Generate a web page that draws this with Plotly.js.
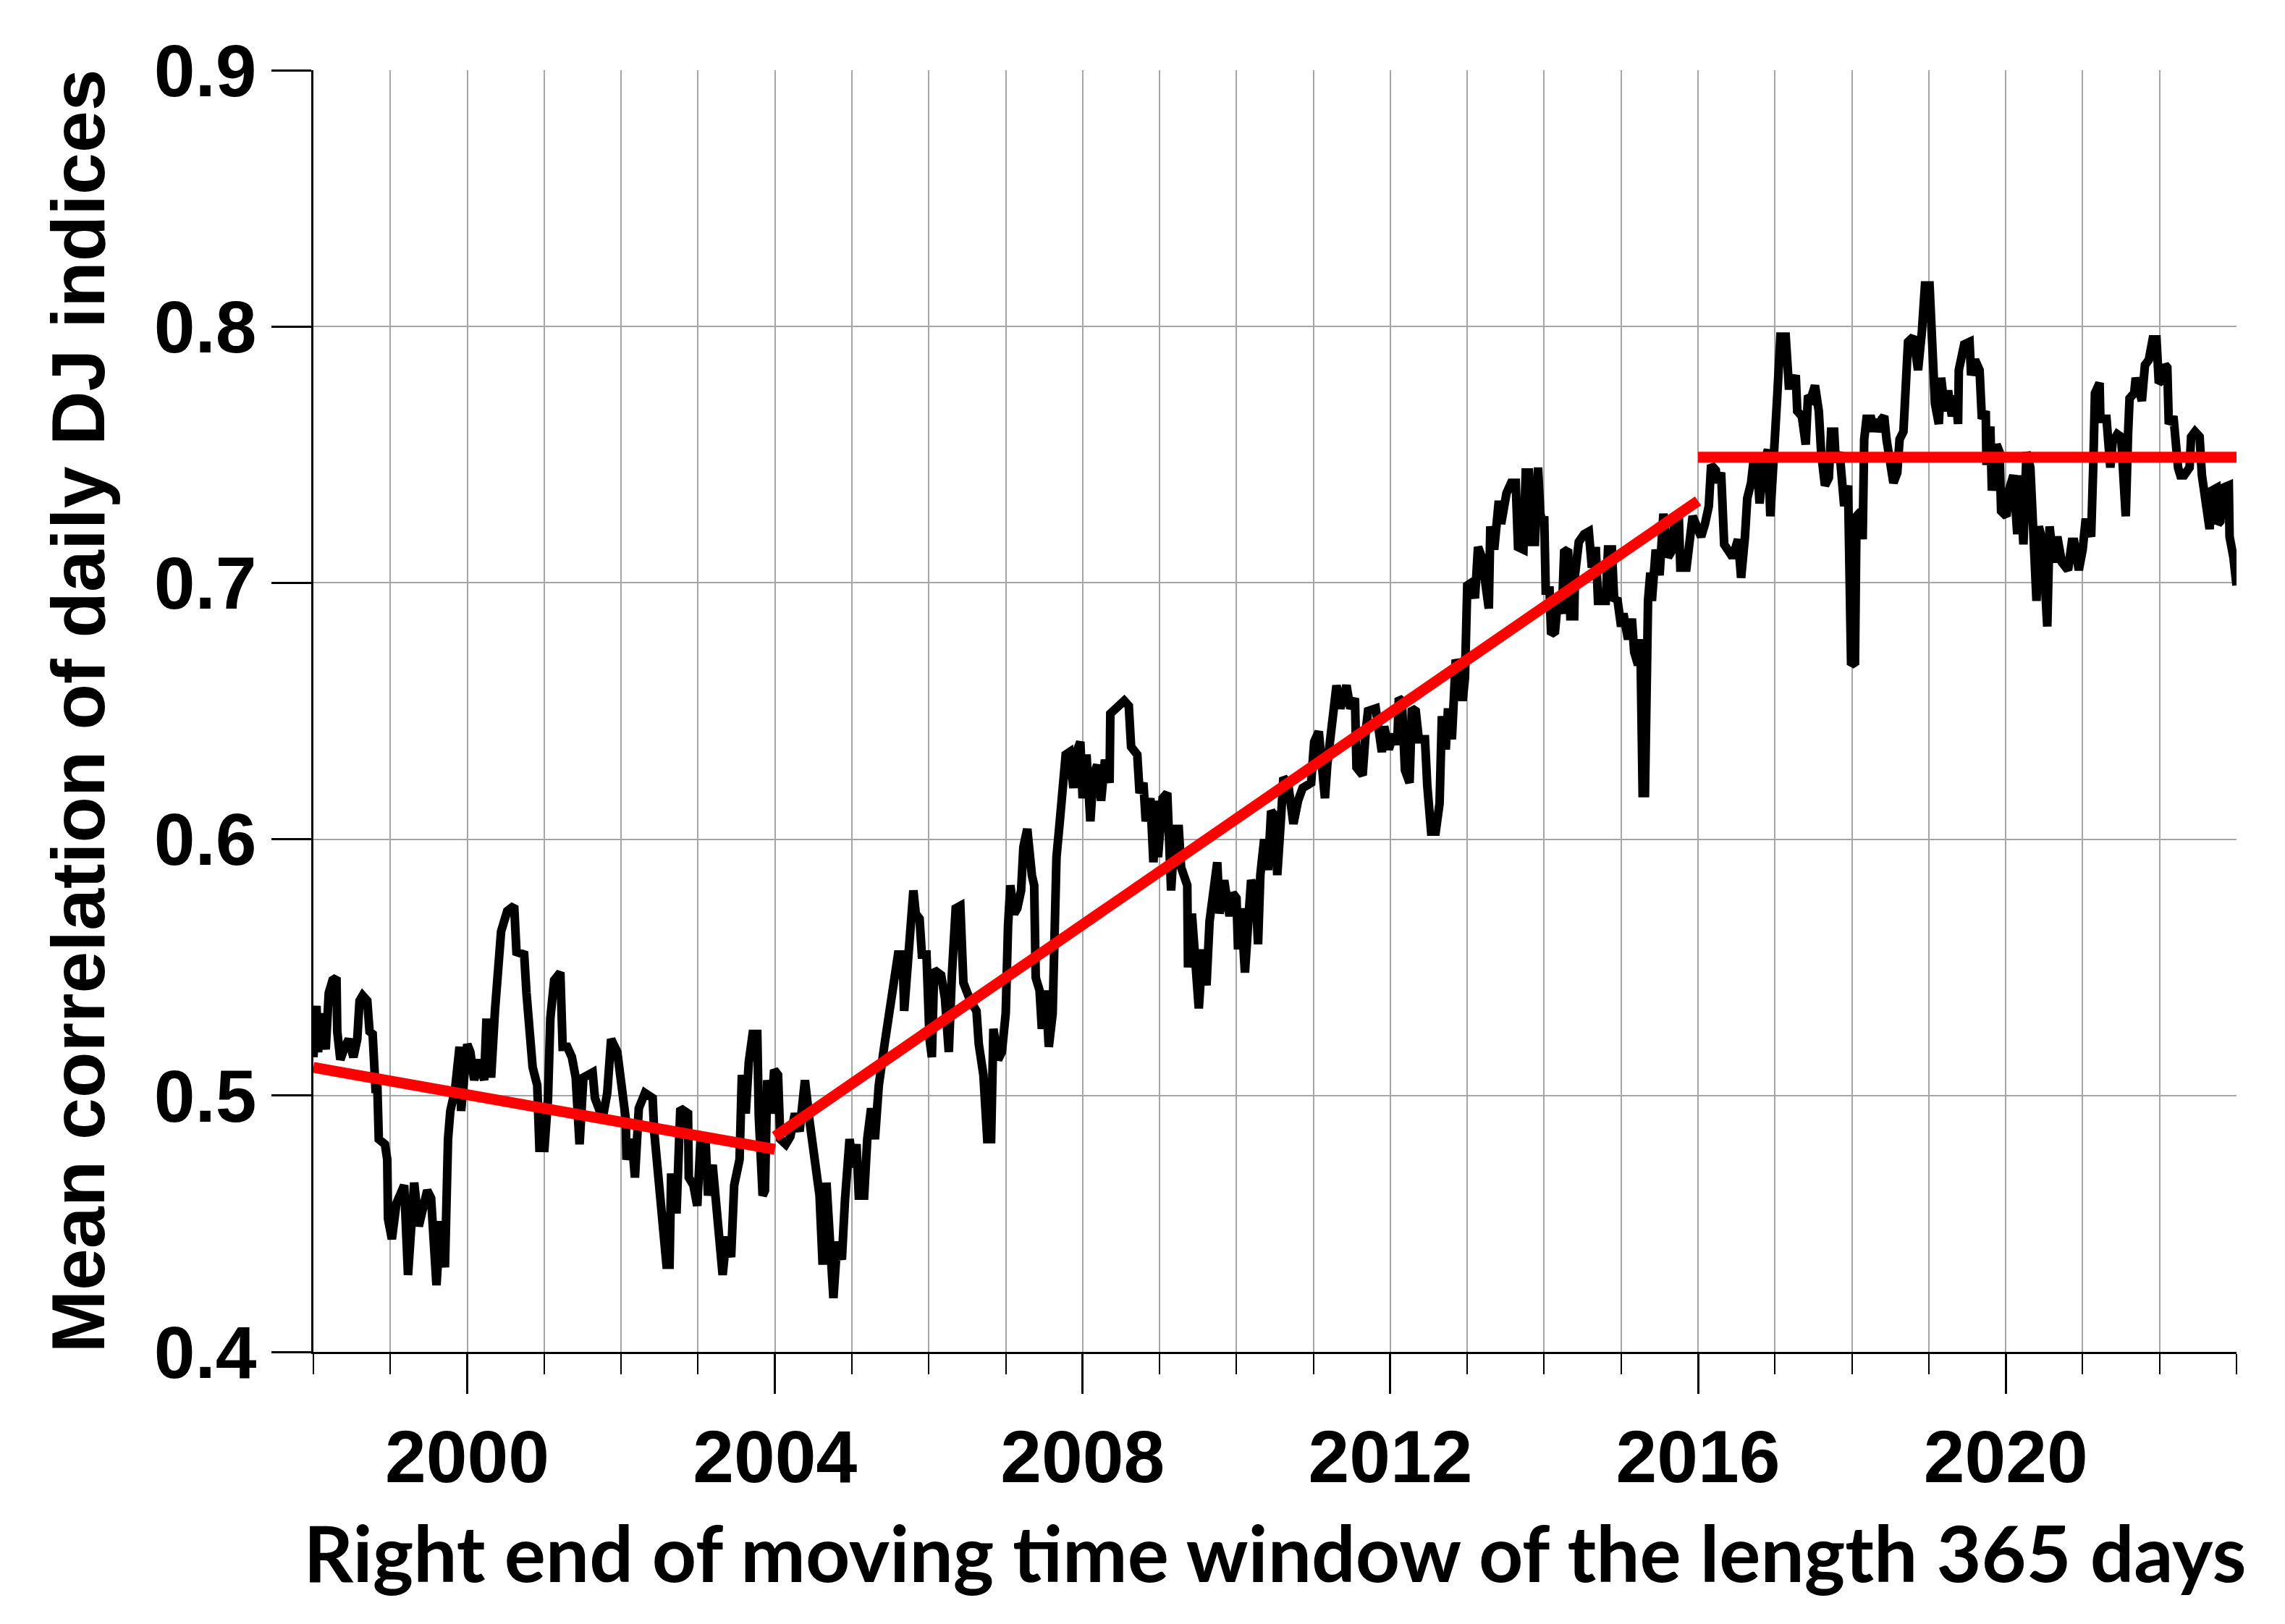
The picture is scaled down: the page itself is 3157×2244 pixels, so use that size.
<!DOCTYPE html>
<html>
<head>
<meta charset="utf-8">
<script src="https://cdn.plot.ly/plotly-3.0.1.min.js"></script>
<style>html,body{margin:0;padding:0;background:#fff;}#chart{width:3157px;height:2244px;}</style>
</head>
<body>
<div id="chart"></div>
<script>
// Mean correlation of daily DJ indices (365-day moving window)
const corrYears = [
1998.00,1998.04,1998.06,1998.11,1998.16,1998.20,1998.25,1998.30,1998.31,1998.35,1998.41,1998.46,1998.52,1998.57,1998.60,1998.64,1998.70,1998.73,1998.77,1998.80,1998.81,1998.83,1998.85,1998.93,1998.96,1998.97,1999.02,1999.08,1999.18,1999.23,1999.31,1999.37,1999.48,1999.53,1999.56,1999.60,1999.65,1999.71,1999.75,1999.78,1999.84,1999.90,1999.92,
2000.00,2000.04,2000.09,2000.15,2000.22,2000.25,2000.31,2000.36,2000.39,2000.44,2000.52,2000.61,2000.64,2000.74,2000.77,2000.80,2000.85,2000.91,2000.94,2000.97,2001.00,2001.05,2001.08,2001.13,2001.21,2001.24,2001.30,2001.36,2001.41,2001.46,2001.51,2001.63,2001.66,2001.76,2001.82,2001.87,2001.95,2002.01,2002.06,2002.07,2002.14,2002.18,
2002.23,2002.31,2002.41,2002.43,2002.53,2002.59,2002.63,2002.65,2002.69,2002.72,2002.77,2002.87,2002.88,2002.94,2002.99,2003.03,2003.10,2003.13,2003.19,2003.27,2003.32,2003.37,2003.43,2003.47,2003.54,2003.57,2003.62,2003.66,2003.71,2003.77,2003.79,2003.84,2003.87,2003.90,2003.95,2003.99,
2004.04,2004.07,2004.14,2004.20,2004.26,2004.32,2004.39,2004.45,2004.51,2004.58,2004.62,2004.67,2004.72,2004.76,2004.81,2004.87,2004.91,2004.97,2005.02,2005.06,2005.09,2005.16,2005.20,2005.25,2005.30,2005.35,2005.42,2005.49,2005.55,2005.60,2005.66,2005.68,2005.72,2005.77,2005.80,2005.83,2005.88,2005.91,2005.97,
2006.01,2006.04,2006.07,2006.16,2006.21,2006.26,2006.30,2006.35,2006.41,2006.45,2006.54,2006.62,2006.65,2006.71,2006.76,2006.81,2006.84,2006.90,2006.95,
2007.00,2007.03,2007.06,2007.11,2007.15,2007.20,2007.23,2007.28,2007.31,2007.34,2007.37,2007.39,2007.44,2007.47,2007.52,2007.56,2007.61,2007.63,2007.66,2007.70,2007.74,2007.78,2007.83,2007.88,2007.92,2007.97,
2008.00,2008.05,2008.10,2008.14,2008.19,2008.24,2008.29,2008.35,2008.36,2008.43,2008.49,2008.54,2008.60,2008.63,2008.71,2008.74,2008.79,2008.82,2008.88,2008.92,2008.96,2008.98,
2009.04,2009.10,2009.15,2009.20,2009.25,2009.28,2009.36,2009.37,2009.42,2009.48,2009.51,2009.56,2009.61,2009.65,2009.70,2009.75,2009.78,2009.84,2009.91,2009.95,
2010.00,2010.02,2010.06,2010.11,2010.16,2010.19,2010.25,2010.28,2010.31,2010.36,2010.41,2010.45,2010.50,2010.53,2010.58,2010.61,2010.67,2010.74,2010.80,2010.86,2010.97,
2011.01,2011.07,2011.10,2011.15,2011.18,2011.24,2011.30,2011.35,2011.43,2011.48,2011.54,2011.56,2011.64,2011.68,2011.71,2011.81,2011.86,2011.89,2011.92,2011.98,
2012.04,2012.09,2012.11,2012.15,2012.19,2012.25,2012.28,2012.33,2012.37,2012.45,2012.48,2012.53,2012.59,2012.64,2012.67,2012.72,2012.75,2012.80,2012.85,2012.89,2012.94,2012.97,
2013.00,2013.05,2013.10,2013.14,2013.19,2013.24,2013.28,2013.30,2013.35,2013.41,2013.44,2013.51,2013.57,2013.63,2013.66,2013.73,2013.76,2013.80,2013.84,2013.88,2013.92,2013.95,2013.98,
2014.00,2014.02,2014.07,2014.09,2014.14,2014.18,2014.23,2014.26,2014.31,2014.34,2014.39,2014.40,2014.45,2014.52,2014.58,2014.62,2014.67,2014.70,2014.80,2014.83,2014.88,2014.91,2014.95,2014.98,
2015.00,2015.03,2015.09,2015.14,2015.17,2015.22,2015.25,2015.28,2015.31,2015.35,2015.38,2015.40,2015.45,2015.50,2015.55,2015.61,2015.67,2015.70,2015.75,2015.77,2015.85,2015.93,2015.98,
2016.04,2016.09,2016.14,2016.17,2016.23,2016.25,2016.30,2016.34,2016.41,2016.45,2016.52,2016.56,2016.61,2016.64,2016.69,2016.72,2016.77,2016.80,2016.85,2016.88,2016.91,2016.94,2016.97,
2017.00,2017.03,2017.07,2017.14,2017.18,2017.22,2017.27,2017.29,2017.35,2017.40,2017.43,2017.47,2017.52,2017.57,2017.60,2017.65,2017.70,2017.73,2017.77,2017.79,2017.84,2017.87,2017.90,2017.95,2017.96,2017.99,
2018.04,2018.06,2018.12,2018.14,2018.16,2018.19,2018.25,2018.28,2018.31,2018.34,2018.39,2018.42,2018.45,2018.51,2018.54,2018.59,2018.62,2018.67,2018.70,2018.73,2018.80,2018.86,2018.91,2018.95,
2019.01,2019.04,2019.08,2019.13,2019.16,2019.21,2019.25,2019.30,2019.35,2019.38,2019.39,2019.46,2019.53,2019.55,2019.60,2019.66,2019.69,2019.74,2019.75,2019.80,2019.82,2019.88,2019.92,2019.94,
2020.01,2020.04,2020.10,2020.15,2020.18,2020.23,2020.27,2020.32,2020.35,2020.40,2020.43,2020.48,2020.54,2020.57,2020.62,2020.67,2020.73,2020.81,2020.86,2020.89,2020.95,
2021.00,2021.04,2021.11,2021.14,2021.16,2021.22,2021.23,2021.31,2021.36,2021.39,2021.45,2021.50,2021.56,2021.59,2021.61,2021.67,2021.69,2021.77,2021.81,2021.86,2021.91,2021.96,2021.99,
2022.03,2022.07,2022.10,2022.12,2022.18,2022.21,2022.24,2022.27,2022.32,2022.39,2022.41,2022.46,2022.52,2022.55,2022.62,2022.65,2022.68,2022.74,2022.76,2022.79,2022.82,2022.90,2022.91,2022.96,2023.00
];
const corrValues = [
0.515,0.535,0.517,0.532,0.518,0.540,0.545,0.546,0.525,0.514,0.519,0.522,0.515,0.522,0.537,0.539,0.537,0.525,0.524,0.511,0.501,0.505,0.483,0.481,0.475,0.452,0.444,0.458,0.465,0.430,0.466,0.449,0.463,0.460,0.446,0.426,0.451,0.433,0.483,0.494,0.502,0.519,0.494,
0.520,0.517,0.506,0.514,0.506,0.530,0.507,0.533,0.543,0.564,0.572,0.574,0.556,0.555,0.540,0.524,0.511,0.504,0.478,0.496,0.478,0.499,0.530,0.545,0.548,0.519,0.519,0.515,0.507,0.481,0.507,0.509,0.499,0.491,0.501,0.522,0.517,0.503,0.491,0.475,0.483,0.468,
0.495,0.501,0.499,0.486,0.448,0.434,0.434,0.468,0.468,0.454,0.495,0.493,0.468,0.465,0.457,0.481,0.481,0.461,0.473,0.448,0.430,0.445,0.437,0.465,0.475,0.508,0.493,0.513,0.524,0.524,0.492,0.461,0.463,0.506,0.493,0.510,
0.508,0.483,0.481,0.484,0.493,0.486,0.506,0.490,0.475,0.461,0.434,0.466,0.441,0.421,0.443,0.436,0.459,0.483,0.472,0.481,0.461,0.461,0.483,0.495,0.483,0.504,0.519,0.531,0.545,0.555,0.555,0.533,0.549,0.578,0.580,0.571,0.569,0.555,0.555,
0.522,0.515,0.549,0.547,0.538,0.517,0.547,0.573,0.574,0.544,0.537,0.533,0.520,0.508,0.483,0.483,0.526,0.514,0.517,
0.532,0.566,0.582,0.571,0.573,0.580,0.597,0.604,0.589,0.586,0.582,0.546,0.541,0.526,0.541,0.519,0.532,0.586,0.593,0.606,0.625,0.633,0.634,0.620,0.634,0.638,
0.616,0.633,0.607,0.625,0.629,0.615,0.631,0.622,0.649,0.651,0.652,0.654,0.652,0.636,0.633,0.618,0.622,0.607,0.616,0.591,0.615,0.593,
0.616,0.618,0.580,0.604,0.604,0.589,0.582,0.550,0.571,0.550,0.534,0.557,0.543,0.568,0.580,0.591,0.571,0.584,0.570,0.579,
0.577,0.557,0.573,0.548,0.571,0.584,0.579,0.559,0.586,0.600,0.588,0.611,0.609,0.586,0.609,0.624,0.622,0.606,0.615,0.620,0.622,
0.638,0.642,0.629,0.616,0.629,0.649,0.660,0.651,0.660,0.651,0.655,0.628,0.625,0.642,0.650,0.651,0.635,0.634,0.644,0.635,
0.641,0.637,0.655,0.654,0.627,0.622,0.651,0.650,0.639,0.639,0.621,0.603,0.603,0.614,0.648,0.635,0.651,0.639,0.670,0.667,0.654,0.663,
0.699,0.700,0.694,0.714,0.710,0.696,0.690,0.722,0.713,0.732,0.723,0.735,0.739,0.739,0.714,0.713,0.743,0.743,0.716,0.716,0.745,0.727,0.723,
0.726,0.697,0.697,0.680,0.681,0.694,0.688,0.712,0.713,0.687,0.687,0.703,0.716,0.719,0.720,0.706,0.714,0.693,0.693,0.713,0.713,0.693,0.694,0.688,
0.683,0.688,0.678,0.686,0.673,0.668,0.678,0.618,0.618,0.693,0.704,0.693,0.713,0.703,0.727,0.710,0.713,0.727,0.726,0.706,0.706,0.726,0.723,
0.718,0.723,0.730,0.746,0.744,0.739,0.743,0.715,0.712,0.710,0.717,0.702,0.718,0.733,0.739,0.747,0.746,0.731,0.746,0.751,0.752,0.726,0.747,
0.762,0.773,0.796,0.796,0.777,0.777,0.781,0.767,0.765,0.754,0.773,0.772,0.777,0.767,0.751,0.738,0.741,0.759,0.759,0.747,0.751,0.743,0.730,0.738,0.705,0.668,
0.669,0.726,0.728,0.717,0.756,0.764,0.764,0.759,0.764,0.759,0.764,0.765,0.756,0.743,0.739,0.743,0.756,0.759,0.778,0.794,0.796,0.783,0.798,0.816,
0.816,0.791,0.770,0.762,0.780,0.767,0.775,0.765,0.773,0.762,0.783,0.793,0.794,0.781,0.787,0.783,0.764,0.767,0.746,0.761,0.736,0.754,0.751,0.728,
0.726,0.736,0.742,0.719,0.742,0.715,0.751,0.745,0.716,0.693,0.722,0.716,0.683,0.722,0.708,0.718,0.708,0.705,0.716,0.716,0.705,
0.713,0.725,0.718,0.748,0.774,0.778,0.764,0.764,0.745,0.755,0.758,0.757,0.726,0.758,0.772,0.774,0.780,0.771,0.785,0.787,0.795,0.795,0.778,
0.779,0.785,0.784,0.762,0.765,0.751,0.745,0.742,0.742,0.745,0.757,0.759,0.757,0.742,0.723,0.721,0.736,0.737,0.723,0.724,0.737,0.738,0.718,0.710,0.699
];

// Piecewise linear trend lines (red)
const trend1Years = [1998.0, 2004.0];
const trend1Values = [0.511, 0.479];
const trend2Years = [2004.0, 2016.0];
const trend2Values = [0.484, 0.732];
const trend3Years = [2016.0, 2023.0];
const trend3Values = [0.749, 0.749];

const xTickStart = 2000, xTickStep = 4;
const yTickStep = 0.1;

const xTitle = 'Right end of moving time window of the length 365 days';
const yTitle = 'Mean correlation of daily DJ indices';

const redLine = {color: '#ff0000', width: 15};
const traces = [
  {x: corrYears, y: corrValues, type: 'scatter', mode: 'lines',
   line: {color: '#000000', width: 12}, hoverinfo: 'skip'},
  {x: trend1Years, y: trend1Values, type: 'scatter', mode: 'lines', line: redLine, cliponaxis: false},
  {x: trend2Years, y: trend2Values, type: 'scatter', mode: 'lines', line: redLine, cliponaxis: false},
  {x: trend3Years, y: trend3Values, type: 'scatter', mode: 'lines', line: redLine, cliponaxis: false}
];

const tickFont = {family: 'Liberation Sans, Arial, sans-serif', size: 102, color: '#000', weight: 700};
const gridColor = '#a6a6a6';

const layout = {
  width: 3157, height: 2244,
  paper_bgcolor: '#ffffff', plot_bgcolor: '#ffffff',
  showlegend: false,
  margin: {l: 433, r: 67, t: 97, b: 376, pad: 0},
  xaxis: {
    range: [1998, 2023],
    tickmode: 'linear', tick0: xTickStart, dtick: xTickStep,
    ticks: 'outside', ticklen: 55, tickwidth: 3, tickcolor: '#000',
    showline: true, linecolor: '#000', linewidth: 3,
    showgrid: true, gridcolor: gridColor, gridwidth: 2,
    zeroline: false,
    tickfont: tickFont,
    minor: {tickmode: 'linear', tick0: 1998, dtick: 1, ticks: 'outside', ticklen: 28,
            tickwidth: 2, tickcolor: '#000', showgrid: true, gridcolor: gridColor, gridwidth: 2},
    title: {text: xTitle, standoff: 42,
            font: {family: 'Lato, Open Sans, sans-serif', size: 107, color: '#000', weight: 700}}
  },
  yaxis: {
    range: [0.4, 0.9],
    tickmode: 'linear', tick0: 0.4, dtick: yTickStep, tickformat: '.1f',
    ticks: 'outside', ticklen: 55, tickwidth: 3, tickcolor: '#000',
    showline: true, linecolor: '#000', linewidth: 3,
    showgrid: true, gridcolor: gridColor, gridwidth: 2,
    zeroline: false,
    tickfont: tickFont,
    title: {text: yTitle, standoff: 34,
            font: {family: 'Liberation Sans, Arial, sans-serif', size: 104, color: '#000', weight: 700}}
  }
};

Plotly.newPlot('chart', traces, layout, {displayModeBar: false, responsive: false});
</script>
</body>
</html>
